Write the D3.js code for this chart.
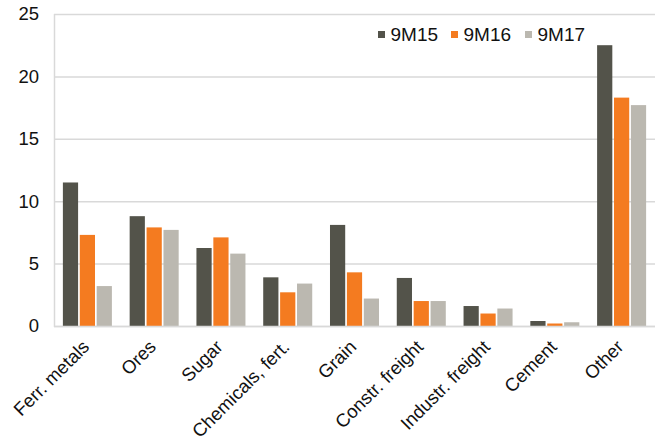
<!DOCTYPE html>
<html>
<head>
<meta charset="utf-8">
<script src="https://cdn.jsdelivr.net/npm/d3@7"></script>
<style>
  html, body { margin: 0; padding: 0; background: #fff; }
  svg { display: block; font-family: "Liberation Sans", Arial, sans-serif; }
</style>
</head>
<body>
<svg id="chart" width="659" height="440"></svg>
<script>
const categories = ["Ferr. metals", "Ores", "Sugar", "Chemicals, fert.", "Grain", "Constr. freight", "Industr. freight", "Cement", "Other"];
const seriesNames = ["9M15", "9M16", "9M17"];
const values9M15 = [11.5, 8.8, 6.25, 3.9, 8.1, 3.85, 1.6, 0.4, 22.5];
const values9M16 = [7.3, 7.9, 7.1, 2.7, 4.3, 2.0, 1.0, 0.2, 18.3];
const values9M17 = [3.2, 7.7, 5.8, 3.4, 2.2, 2.0, 1.4, 0.3, 17.7];
const yTicks = [0, 5, 10, 15, 20, 25];
const colors = ["#53534a", "#f47b20", "#bbb8b0"];

(function () {
const seriesValues = [values9M15, values9M16, values9M17];
const svg = d3.select("#chart");
const mLeft = 54, mRight = 655, mTop = 14, mBottom = 326;

const y = d3.scaleLinear().domain([0, 25]).range([mBottom, mTop]);
const x0 = d3.scaleBand().domain(categories).range([mLeft, mRight]).paddingInner(0.266).paddingOuter(0.133);
const x1 = d3.scaleBand().domain(seriesNames).range([0, x0.bandwidth()]).paddingInner(0.1);

// gridlines
svg.append("g").selectAll("line").data(yTicks).join("line")
  .attr("x1", mLeft).attr("x2", mRight)
  .attr("y1", d => y(d) + 0.5).attr("y2", d => y(d) + 0.5)
  .attr("stroke", "#d9d9d9").attr("stroke-width", 1.5);

// left axis line
svg.append("line").attr("x1", mLeft + 0.5).attr("x2", mLeft + 0.5)
  .attr("y1", mTop).attr("y2", mBottom + 1)
  .attr("stroke", "#d9d9d9").attr("stroke-width", 1.5);

// y tick labels
const yAxis = d3.axisLeft(y).tickValues(yTicks).tickSize(0).tickPadding(15);
const ya = svg.append("g").attr("transform", `translate(${mLeft},0)`).call(yAxis);
ya.select(".domain").remove();
ya.selectAll("text").attr("font-size", 18.5).attr("fill", "#111").attr("font-family", "Liberation Sans, Arial, sans-serif");

// bars
const groups = svg.append("g").selectAll("g").data(categories).join("g")
  .attr("transform", d => `translate(${x0(d)},0)`);
groups.selectAll("rect").data((c, i) => seriesNames.map((s, k) => ({s, v: seriesValues[k][i], k})))
  .join("rect")
  .attr("x", d => x1(d.s))
  .attr("width", x1.bandwidth())
  .attr("y", d => y(d.v))
  .attr("height", d => y(0) - y(d.v))
  .attr("fill", d => colors[d.k]);

// bottom axis line
svg.append("line").attr("x1", mLeft).attr("x2", mRight)
  .attr("y1", mBottom + 0.5).attr("y2", mBottom + 0.5)
  .attr("stroke", "#d9d9d9").attr("stroke-width", 1.5);

// x labels
const xAxis = d3.axisBottom(x0).tickSize(0).tickPadding(0);
const xa = svg.append("g").attr("transform", `translate(0,${mBottom})`).call(xAxis);
xa.select(".domain").remove();
xa.selectAll("text")
  .attr("font-size", 18.5).attr("fill", "#111")
  .attr("font-family", "Liberation Sans, Arial, sans-serif")
  .attr("text-anchor", "end")
  .attr("dy", null)
  .attr("y", 0)
  .attr("transform", "translate(3,22) rotate(-45)");

// legend
const legendX = [378, 451, 525];
const lg = svg.append("g").selectAll("g").data(seriesNames).join("g")
  .attr("transform", (d, i) => `translate(${legendX[i]},0)`);
lg.append("rect").attr("x", 0).attr("y", 31).attr("width", 7).attr("height", 7)
  .attr("fill", (d, i) => colors[i]);
lg.append("text").attr("x", 12.5).attr("y", 40.5).text(d => d)
  .attr("font-size", 19).attr("fill", "#111");
})();
</script>
</body>
</html>
